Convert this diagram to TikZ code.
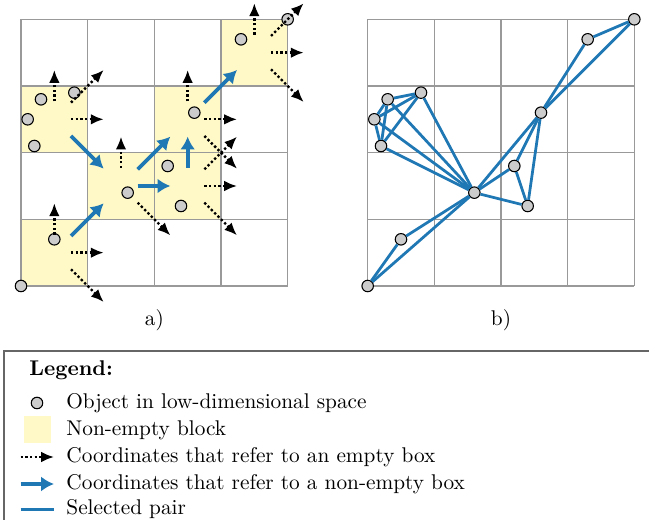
\documentclass[tikz,border=0pt]{standalone}
\usepackage{tikz}
\usetikzlibrary{arrows.meta, positioning}
\definecolor{blockYellow}{RGB}{255,249,199}
\definecolor{pairBlue}{RGB}{31,119,180}
\tikzset{
    objNode/.style={
        circle,
        draw=black,
        fill=black!20,
        line width=0.5pt,
        inner sep=0pt,
        minimum size=5.4pt
    },
    emptyArrow/.style={-{Latex[length=6pt, width=5pt]}, line width=1.1pt, dash pattern=on 1.1pt off 1.1pt},
    fullArrow/.style={-{Latex[length=6pt, width=7pt]}, line width=1.8pt, draw=pairBlue, fill=pairBlue},
    pairLine/.style={line width=1.3pt, draw=pairBlue},
    gridLine/.style={draw=black!40, line width=0.6pt, step={(1,1)}},
    legText/.style={anchor=west, inner sep=0pt}
}

\begin{document}
\begin{tikzpicture}[x=1.1cm, y=1.1cm]
            \useasboundingbox (-0.315,-3.51) rectangle (9.42,4.29);

            % Non-empty blocks
            \foreach \cx/\cy in {0/0, 0/2, 1/1, 2/1, 2/2, 3/3}
                \fill[blockYellow] (\cx,\cy) rectangle ++(1,1);

            % Grids
            \draw[gridLine] (0,0) grid (4,4);
            \draw[gridLine, shift={(5.2,0)}] (0,0) grid (4,4);

            % Objects (same positions in a) and b))
            \foreach \i/\px/\py in {1/0/0, 2/0.5/0.7, 3/0.3/2.8, 4/0.1/2.5, 5/0.2/2.1, 6/0.8/2.9,
                                   7/1.6/1.4, 8/2.2/1.8, 9/2.4/1.2, 10/2.6/2.6, 11/3.3/3.7, 12/4/4} {
                \node[objNode] (a\i) at (\px,\py) {};
                \node[objNode] (b\i) at (\px+5.2,\py) {};
            }

            % Neighbour coordinates: up, right, up-right, down-right
            \foreach \cx/\cy/\su/\sr/\sur/\sdr in {
                    0/0/emptyArrow/emptyArrow/fullArrow/emptyArrow,
                    0/2/emptyArrow/emptyArrow/emptyArrow/fullArrow,
                    1/1/emptyArrow/fullArrow/fullArrow/emptyArrow,
                    2/1/fullArrow/emptyArrow/emptyArrow/emptyArrow,
                    2/2/emptyArrow/emptyArrow/fullArrow/emptyArrow,
                    3/3/emptyArrow/emptyArrow/emptyArrow/emptyArrow} {
                \draw[\su] (\cx+0.5,\cy+0.77) -- (\cx+0.5,\cy+1.24);
                \draw[\sr] (\cx+0.75,\cy+0.5) -- (\cx+1.24,\cy+0.5);
                \draw[\sur] (\cx+0.75,\cy+0.75) -- (\cx+1.24,\cy+1.24);
                \draw[\sdr] (\cx+0.75,\cy+0.25) -- (\cx+1.24,\cy-0.24);
            }

            % Selected pairs
            \foreach \u/\v in {3/4, 3/5, 3/6, 4/5, 4/6, 5/6, 3/7, 4/7, 5/7, 6/7,
                               1/2, 1/7, 2/7, 7/8, 7/9, 7/10, 8/9, 8/10, 9/10,
                               10/11, 10/12, 11/12}
                \draw[pairLine] (b\u) -- (b\v);

            % Sub-figure labels
            \node (labA) at (2,-0.51) {a)};
            \node (labB) at (7.2,-0.51) {b)};

            % Legend
            \draw[black!60, line width=0.8pt] (-0.255,-0.975) rectangle (9.8,-3.9);
            \node[legText, font=\bfseries] (legTitle) at (0.12,-1.26) {Legend:};
            \node[objNode] (symObj) at (0.24,-1.755) {};
            \fill[blockYellow] (0.045,-1.95) rectangle (0.445,-2.35);
            \draw[emptyArrow] (-0.005,-2.565) -- (0.495,-2.565);
            \draw[fullArrow] (-0.005,-2.97) -- (0.495,-2.97);
            \draw[pairLine] (-0.005,-3.35) -- (0.495,-3.35);
            \node[legText] (legObj) at (0.675,-1.755) {Object in low-dimensional space};
            \node[legText] (legBlock) at (0.675,-2.16) {Non-empty block};
            \node[legText] (legEmpty) at (0.675,-2.565) {Coordinates that refer to an empty box};
            \node[legText] (legFull) at (0.675,-2.97) {Coordinates that refer to a non-empty box};
            \node[legText] (legPair) at (0.675,-3.35) {Selected pair};
        \end{tikzpicture}
\end{document}
